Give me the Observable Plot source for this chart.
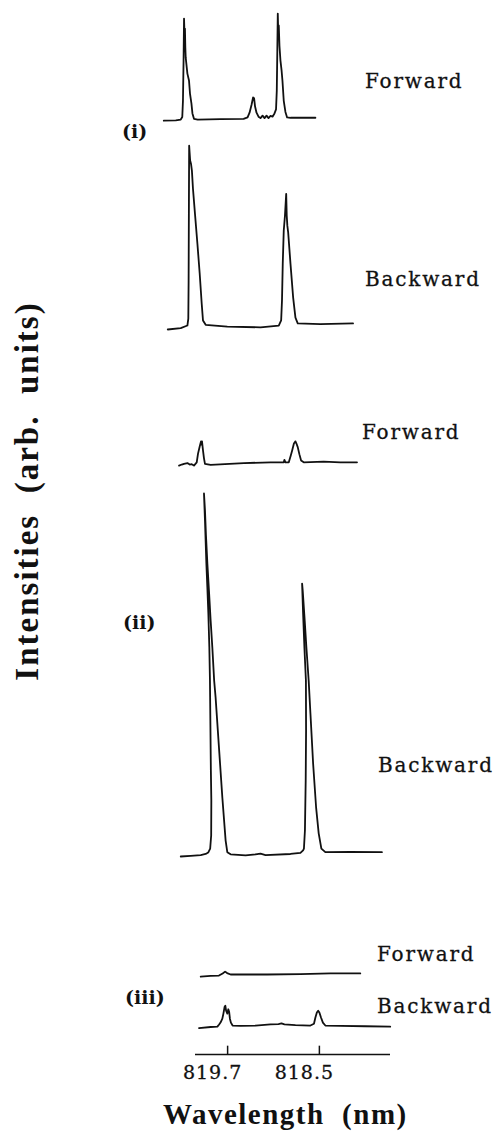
<!DOCTYPE html>
<html>
<head>
<meta charset="utf-8">
<script src="https://cdn.jsdelivr.net/npm/d3@7"></script>
<script src="https://cdn.jsdelivr.net/npm/@observablehq/plot@0.6"></script>
<style>
  html, body { margin: 0; padding: 0; background: #fff; }
  #figure { position: relative; width: 496px; height: 1148px; overflow: hidden; background: #fff; }
  #figure svg { position: absolute; left: 0; top: 0; }
  .lbl { position: absolute; white-space: pre; color: #111; }
  .dir { font: 20px/20px "DejaVu Serif"; letter-spacing: 1.8px; -webkit-text-stroke: 0.3px #111; }
  .panel { font: bold 19px/19px "DejaVu Serif"; }
  .title { font-family: "Liberation Serif"; font-weight: bold; letter-spacing: 1.5px; }
</style>
</head>
<body>
<div id="figure"></div>
<script>
// Spectra: [wavelength (nm), intensity (arb. units)] for each recording.
// Panel (i)
const forward1 = [
  [820.535, -0.3], [820.378, -0.2], [820.313, 0], [820.293, 0.7], [820.284, 5.2],
  [820.276, 16.3], [820.270, 27.9], [820.263, 23.2], [820.258, 25.1], [820.253, 19.9],
  [820.248, 17.1], [820.226, 12.7], [820.205, 10.8], [820.192, 7.2], [820.173, 4.4],
  [820.160, 1.7], [820.140, 0.2], [820.091, 0], [819.791, 0.1], [819.491, 0.2],
  [819.439, 0.6], [819.413, 1.9], [819.387, 4.1], [819.367, 6.1], [819.354, 5.9],
  [819.341, 3.6], [819.322, 1.9], [819.296, 0.8], [819.270, 0.4], [819.243, 1.1],
  [819.217, 0.4], [819.191, 1.1], [819.165, 0.4], [819.139, 1.0], [819.113, 0.8],
  [819.087, 1.7], [819.067, 2.8], [819.057, 8.0], [819.050, 19.1], [819.044, 29.3],
  [819.037, 23.2], [819.031, 26.0], [819.022, 20.4], [819.009, 16.3], [818.994, 13.5],
  [818.983, 10.8], [818.966, 5.2], [818.944, 2.1], [818.922, 0.6], [818.878, 0.5],
  [818.552, 0.5]
];
const backward1 = [
  [820.483, -0.8], [820.313, -0.4], [820.226, 0.3], [820.214, 2.2], [820.210, 12.7],
  [820.206, 34.8], [820.203, 50.0], [820.197, 48.1], [820.190, 45.9], [820.179, 45.0],
  [820.167, 43.1], [820.153, 38.1], [820.127, 31.2], [820.095, 22.9], [820.065, 14.6],
  [820.039, 6.4], [820.022, 1.7], [819.987, 0.5], [819.704, 0], [819.270, -0.2],
  [819.031, 0.3], [819.000, 1.7], [818.989, 7.2], [818.979, 17.4], [818.966, 26.5],
  [818.950, 30.7], [818.934, 36.7], [818.927, 30.7], [818.919, 27.9], [818.908, 26.0],
  [818.878, 17.4], [818.843, 8.0], [818.813, 2.5], [818.783, 0.9], [818.487, 0.7],
  [818.060, 0.9]
];
// Panel (ii)
const forward2 = [
  [820.335, -0.3], [820.300, 0], [820.270, 0.2], [820.226, 0.4], [820.196, 0],
  [820.170, 0.1], [820.140, -0.3], [820.104, 0.6], [820.087, 3.0], [820.065, 5.0],
  [820.048, 6.4], [820.042, 5.5], [820.035, 6.4], [820.022, 3.9], [820.009, 1.7],
  [819.996, 0.2], [819.922, -0.1], [819.488, 0.4], [819.139, 0.6], [818.966, 0.6],
  [818.957, 1.3], [818.944, 0.6], [818.900, 0.6], [818.874, 2.5], [818.856, 3.9],
  [818.833, 5.8], [818.813, 6.4], [818.800, 5.8], [818.783, 4.8], [818.761, 2.8],
  [818.739, 1.1], [818.705, 0.6], [818.444, 0.8], [818.226, 0.6], [818.008, 0.6]
];
const backward2 = [
  [820.313, -0.3], [820.183, -0.1], [820.052, 0.1], [819.987, 0.4], [819.954, 0.8],
  [819.928, 1.9], [819.915, 5.5], [819.913, 15.2], [819.919, 23.5], [819.931, 48.3],
  [819.939, 57.5], [819.952, 66.9], [819.965, 74.0], [819.978, 80.7], [819.996, 92.5],
  [820.009, 100.0], [819.996, 95.3], [819.983, 88.4], [819.965, 80.7], [819.944, 73.2],
  [819.922, 64.9], [819.900, 57.5], [819.876, 48.3], [819.857, 43.6], [819.813, 29.8],
  [819.769, 16.0], [819.726, 4.1], [819.704, 0.9], [819.661, 0.3], [819.465, 0],
  [819.335, 0.3], [819.270, 0.5], [819.204, 0.1], [818.878, 0.4], [818.748, 0.7],
  [818.713, 1.4], [818.702, 1.9], [818.689, 6.9], [818.679, 20.7], [818.674, 34.5],
  [818.676, 48.3], [818.696, 57.5], [818.713, 66.9], [818.726, 75.1], [818.718, 73.2],
  [818.692, 64.9], [818.670, 57.5], [818.640, 48.3], [818.617, 39.2], [818.582, 25.4],
  [818.543, 13.3], [818.509, 6.1], [818.474, 1.9], [818.422, 0.9], [818.096, 1.0],
  [817.682, 0.9]
];
// Panel (iii)
const forward3 = [
  [820.052, -0.3], [819.922, -0.1], [819.813, 0], [819.765, 0.6], [819.733, 1.1],
  [819.707, 0.7], [819.661, 0.3], [819.400, 0.3], [819.182, 0.3], [818.748, 0.4],
  [818.357, 0.6], [817.965, 0.6]
];
const backward3 = [
  [820.074, -0.4], [819.922, -0.1], [819.834, 0], [819.811, 0.6], [819.791, 1.2],
  [819.769, 2.2], [819.755, 3.6], [819.739, 5.5], [819.730, 5.8], [819.720, 4.4],
  [819.704, 3.6], [819.691, 4.8], [819.680, 4.1], [819.670, 2.2], [819.657, 1.1],
  [819.635, 0.3], [819.530, 0.2], [819.335, 0.3], [819.139, 0.6], [819.035, 0.7],
  [818.996, 0.9], [818.957, 0.6], [818.813, 0.4], [818.617, 0.3], [818.571, 0.8],
  [818.552, 2.5], [818.533, 3.9], [818.516, 4.4], [818.500, 3.9], [818.480, 2.6],
  [818.454, 1.1], [818.422, 0.3], [818.226, 0.2], [817.900, 0.1], [817.574, 0]
];

const tickValues = [819.7, 818.5];
const panels = ["(i)", "(ii)", "(iii)"];
const directions = ["Forward", "Backward"];

// Six recordings, top to bottom, with the vertical offset each is stacked at.
const spectra = [forward1, backward1, forward2, backward2, forward3, backward3];
const stackOffsets = [258.3, 201.1, 163.0, 55.0, 21.8, 7.7];

const rows = spectra.flatMap((s, i) =>
  s.map(([nm, v]) => ({trace: i, nm, y: stackOffsets[i] + v}))
);

const chart = Plot.plot({
  width: 496,
  height: 1148,
  marginLeft: 195,
  marginRight: 106,
  marginTop: 0,
  marginBottom: 94,
  style: {background: "transparent", color: "#111"},
  x: {domain: [820.12, 817.57]},
  y: {domain: [0, 291.2], axis: null},
  marks: [
    Plot.ruleY([0], {stroke: "#111", strokeWidth: 1.6}),
    Plot.ruleX(tickValues, {y1: 0, y2: 2.3, stroke: "#111", strokeWidth: 1.5}),
    Plot.axisX(tickValues, {
      tickSize: 0, tickPadding: 11, dx: -15,
      tickFormat: (d) => d.toFixed(1),
      fontSize: 19, fontFamily: "DejaVu Serif",
      label: null
    }),
    Plot.line(rows, {
      x: "nm", y: "y", z: "trace",
      stroke: "#111", strokeWidth: 1.8, strokeLinejoin: "round"
    })
  ]
});

const fig = document.getElementById("figure");
fig.appendChild(chart);
chart.querySelectorAll('g[aria-label="x-axis tick label"] text').forEach(t => {
  t.style.letterSpacing = "1px";
  t.style.stroke = "#111";
  t.style.strokeWidth = "0.3px";
});

// Text placement (left, top in px within the figure)
const annotations = [
  {text: directions[0], cls: "dir", left: 365, top: 71},
  {text: panels[0], cls: "panel", left: 122, top: 122},
  {text: directions[1], cls: "dir", left: 365, top: 269},
  {text: directions[0], cls: "dir", left: 362, top: 422},
  {text: panels[1], cls: "panel", left: 123, top: 613},
  {text: directions[1], cls: "dir", left: 378, top: 755},
  {text: directions[0], cls: "dir", left: 377, top: 944},
  {text: panels[2], cls: "panel", left: 125, top: 988},
  {text: directions[1], cls: "dir", left: 377, top: 996}
];
for (const a of annotations) {
  const d = document.createElement("div");
  d.className = "lbl " + a.cls;
  d.textContent = a.text;
  d.style.left = a.left + "px";
  d.style.top = a.top + "px";
  fig.appendChild(d);
}

// Axis titles
const yTitle = document.createElement("div");
yTitle.className = "lbl title";
yTitle.textContent = "Intensities  (arb.  units)";
Object.assign(yTitle.style, {
  fontSize: "33px", lineHeight: "33px", letterSpacing: "2px", left: "27px", top: "491px",
  transform: "translate(-50%, -50%) rotate(-90deg)"
});
fig.appendChild(yTitle);

const xTitle = document.createElement("div");
xTitle.className = "lbl title";
xTitle.textContent = "Wavelength  (nm)";
Object.assign(xTitle.style, {fontSize: "29px", lineHeight: "29px", left: "163px", top: "1100px"});
fig.appendChild(xTitle);
</script>
</body>
</html>
